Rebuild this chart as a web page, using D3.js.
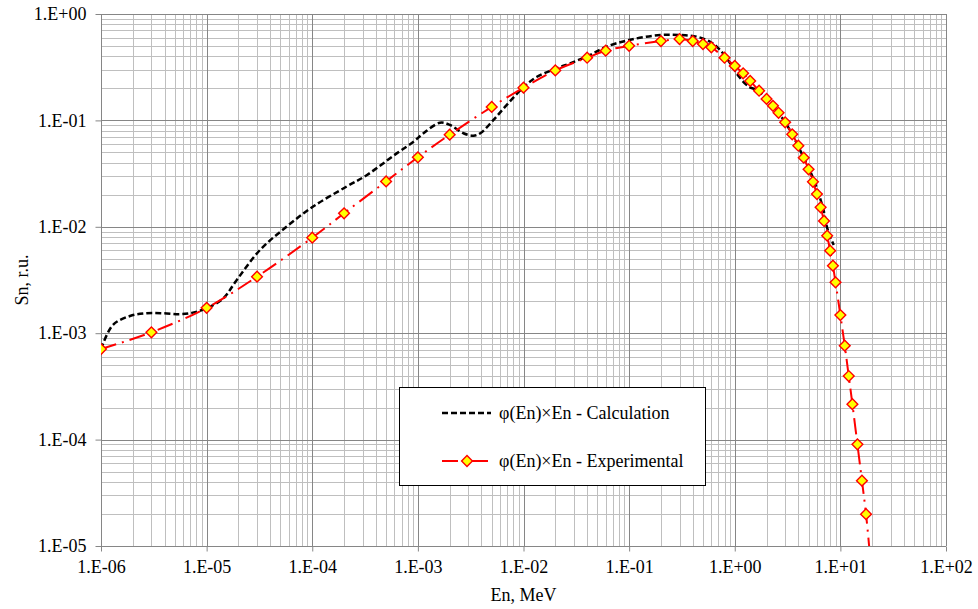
<!DOCTYPE html>
<html>
<head>
<meta charset="utf-8">
<script src="https://cdn.jsdelivr.net/npm/d3@7"></script>
<style>
  html, body { margin: 0; padding: 0; background: #fff; }
  svg text { font-family: "Liberation Serif", "Times New Roman", "DejaVu Serif", serif; fill: #000; }
</style>
</head>
<body>
<svg id="chart" width="978" height="609"></svg>
<script>
// ---- data ----
const xTickValues = [1e-6, 1e-5, 1e-4, 1e-3, 1e-2, 1e-1, 1e0, 1e1, 1e2];
const xTickLabels = ["1.E-06", "1.E-05", "1.E-04", "1.E-03", "1.E-02", "1.E-01", "1.E+00", "1.E+01", "1.E+02"];
const yTickValues = [1e-5, 1e-4, 1e-3, 1e-2, 1e-1, 1e0];
const yTickLabels = ["1.E-05", "1.E-04", "1.E-03", "1.E-02", "1.E-01", "1.E+00"];

const expEnergy = [1e-6, 3e-6, 1e-5, 3e-5, 1e-4, 2e-4, 5e-4, 1e-3, 2e-3, 5e-3, 1e-2, 2e-2, 4e-2, 6e-2,
  0.1, 0.2, 0.3, 0.4, 0.5, 0.6, 0.8, 1.0, 1.2, 1.4, 1.7, 2.0, 2.3, 2.6, 3.0, 3.5, 4.0, 4.5, 5.0, 5.5,
  6.0, 6.5, 7.0, 7.5, 8.0, 8.5, 9.0, 10, 11, 12, 13, 14.5, 16, 17.5, 19];
const expValue = [7.1e-4, 1.02e-3, 1.73e-3, 3.4e-3, 7.9e-3, 1.34e-2, 2.67e-2, 4.5e-2, 7.35e-2, 0.134, 0.203, 0.295, 0.388, 0.452,
  0.503, 0.557, 0.582, 0.557, 0.522, 0.486, 0.388, 0.325, 0.277, 0.235, 0.190, 0.159, 0.137, 0.118, 0.096, 0.074, 0.0578, 0.0446, 0.0347, 0.0265,
  0.0203, 0.01525, 0.01134, 0.00825, 0.00596, 0.00431, 0.00301, 0.00148, 7.63e-4, 3.96e-4, 2.15e-4, 9.03e-5, 4.11e-5, 1.99e-5, 8.5e-6];

const calcEnergy = [1e-6, 1.3e-6, 1.88e-6, 2.7e-6, 3.9e-6, 5.6e-6, 7.4e-6, 1e-5, 1.44e-5, 1.9e-5, 3.2e-5, 5.7e-5,
  1.02e-4, 2.1e-4, 3.3e-4, 6.3e-4, 9.1e-4, 1.13e-3, 1.62e-3, 2.02e-3, 2.7e-3, 3.36e-3, 3.9e-3, 5.2e-3, 6.95e-3,
  1.0e-2, 1.34e-2, 2.07e-2, 2.76e-2, 4.27e-2, 6.0e-2, 0.1, 0.197, 0.305, 0.438, 0.585, 0.727, 0.905, 1.10, 1.36, 1.62,
  2.0, 3.0, 4.5, 5.6, 6.92, 7.45, 8.0, 8.65];
const calcValue = [7.1e-4, 1.2e-3, 1.45e-3, 1.54e-3, 1.54e-3, 1.51e-3, 1.56e-3, 1.72e-3, 2.13e-3, 3.1e-3, 6.05e-3, 1.0e-2,
  1.55e-2, 2.38e-2, 3.07e-2, 4.9e-2, 6.3e-2, 7.57e-2, 9.5e-2, 9.05e-2, 7.57e-2, 7.18e-2, 7.57e-2, 0.101, 0.14,
  0.205, 0.257, 0.309, 0.344, 0.412, 0.49, 0.57, 0.635, 0.635, 0.612, 0.549, 0.459, 0.344, 0.257, 0.207, 0.193,
  0.159, 0.096, 0.0446, 0.0275, 0.0144, 0.0100, 8.07e-3, 6.74e-3];

const legendLabels = ["\u03c6(En)\u00d7En - Calculation", "\u03c6(En)\u00d7En - Experimental"];

// ---- layout ----
const svg = d3.select("#chart");
const L = 101, R = 946, T = 14, B = 546;
const x = d3.scaleLog().domain([1e-6, 1e2]).range([L, R]);
const y = d3.scaleLog().domain([1e-5, 1]).range([B, T]);
const majorCol = "#868686", minorCol = "#bfbfbf";
const FS = 18;
const FF = "Liberation Serif";

function minors(lo, hi) {
  const out = [];
  for (let e = lo; e < hi; e++) for (let k = 2; k <= 9; k++) out.push(k * Math.pow(10, e));
  return out;
}
const xMinor = minors(-6, 2), yMinor = minors(-5, 0);

const grid = svg.append("g");
grid.selectAll(".vmin").data(xMinor).join("line")
  .attr("x1", d => Math.round(x(d)) + 0.5).attr("x2", d => Math.round(x(d)) + 0.5)
  .attr("y1", T).attr("y2", B).attr("stroke", minorCol).attr("stroke-width", 1);
grid.selectAll(".hmin").data(yMinor).join("line")
  .attr("y1", d => Math.round(y(d)) + 0.5).attr("y2", d => Math.round(y(d)) + 0.5)
  .attr("x1", L).attr("x2", R).attr("stroke", minorCol).attr("stroke-width", 1);
grid.selectAll(".vmaj").data(xTickValues).join("line")
  .attr("x1", d => Math.round(x(d)) + 0.5).attr("x2", d => Math.round(x(d)) + 0.5)
  .attr("y1", T).attr("y2", B).attr("stroke", majorCol).attr("stroke-width", 1);
grid.selectAll(".hmaj").data(yTickValues).join("line")
  .attr("y1", d => Math.round(y(d)) + 0.5).attr("y2", d => Math.round(y(d)) + 0.5)
  .attr("x1", L).attr("x2", R).attr("stroke", majorCol).attr("stroke-width", 1);

// axes
const xAxis = d3.axisBottom(x).tickValues(xTickValues)
  .tickFormat((d, i) => xTickLabels[i]).tickSize(5).tickPadding(6);
const gx = svg.append("g").attr("transform", `translate(0,${Math.round(B) + 0.5})`).call(xAxis);
gx.attr("font-family", FF);
gx.select(".domain").attr("stroke", majorCol).attr("d", `M${L},0H${R}`);
gx.selectAll(".tick line").attr("stroke", majorCol);
gx.selectAll("text").attr("font-size", FS).attr("font-family", FF).attr("dy", "0.85em");

const yAxis = d3.axisLeft(y).tickValues(yTickValues)
  .tickFormat((d, i) => yTickLabels[i]).tickSize(6).tickPadding(9);
const gy = svg.append("g").attr("transform", `translate(${Math.round(L) + 0.5},0)`).call(yAxis);
gy.attr("font-family", FF);
gy.select(".domain").attr("stroke", majorCol).attr("d", `M0,${T}V${B}`);
gy.selectAll(".tick line").attr("stroke", majorCol);
gy.selectAll("text").attr("font-size", FS).attr("font-family", FF);

// axis titles
svg.append("text").attr("x", (L + R) / 2).attr("y", 601).attr("text-anchor", "middle")
  .attr("font-family", FF).attr("font-size", FS).text("En, MeV");
svg.append("text").attr("transform", `translate(28,${(T + B) / 2}) rotate(-90)`)
  .attr("text-anchor", "middle").attr("font-family", FF).attr("font-size", FS).text("Sn, r.u.");

// clip
svg.append("defs").append("clipPath").attr("id", "plotclip")
  .append("rect").attr("x", L).attr("y", T).attr("width", R - L).attr("height", B - T);

const plot = svg.append("g").attr("clip-path", "url(#plotclip)");
const line = d3.line().x(d => x(d[0])).y(d => y(d[1])).curve(d3.curveCatmullRom.alpha(0.5));

const calcData = calcEnergy.map((e, i) => [e, calcValue[i]]);
const expData = expEnergy.map((e, i) => [e, expValue[i]]);

plot.append("path").datum(calcData).attr("d", line)
  .attr("fill", "none").attr("stroke", "#000").attr("stroke-width", 2.5)
  .attr("stroke-dasharray", "6,3");

plot.append("path").datum(expData).attr("d", line)
  .attr("fill", "none").attr("stroke", "#ff0000").attr("stroke-width", 2)
  .attr("stroke-dasharray", "16,6,2,6");

const diamond = d3.symbol().type(d3.symbolSquare).size(58);
plot.selectAll(".mk").data(expData).join("path")
  .attr("d", diamond)
  .attr("transform", d => `translate(${x(d[0])},${y(d[1])}) rotate(45)`)
  .attr("fill", "#ffff00").attr("stroke", "#ff0000").attr("stroke-width", 1.4);

// legend
const lg = svg.append("g");
lg.append("rect").attr("x", 399.5).attr("y", 387.5).attr("width", 306).attr("height", 98)
  .attr("fill", "#fff").attr("stroke", "#000").attr("stroke-width", 1);
lg.append("line").attr("x1", 442).attr("x2", 491).attr("y1", 413).attr("y2", 413)
  .attr("stroke", "#000").attr("stroke-width", 2.5).attr("stroke-dasharray", "6,3");
lg.append("line").attr("x1", 442).attr("x2", 491).attr("y1", 461).attr("y2", 461)
  .attr("stroke", "#ff0000").attr("stroke-width", 2).attr("stroke-dasharray", "16,6,2,6");
lg.append("path").attr("d", diamond)
  .attr("transform", `translate(467,461) rotate(45)`)
  .attr("fill", "#ffff00").attr("stroke", "#ff0000").attr("stroke-width", 1.4);
lg.selectAll(".lt").data(legendLabels).join("text")
  .attr("x", 499).attr("y", (d, i) => 419 + i * 48)
  .attr("font-family", FF).attr("font-size", FS).text(d => d);
</script>
</body>
</html>
